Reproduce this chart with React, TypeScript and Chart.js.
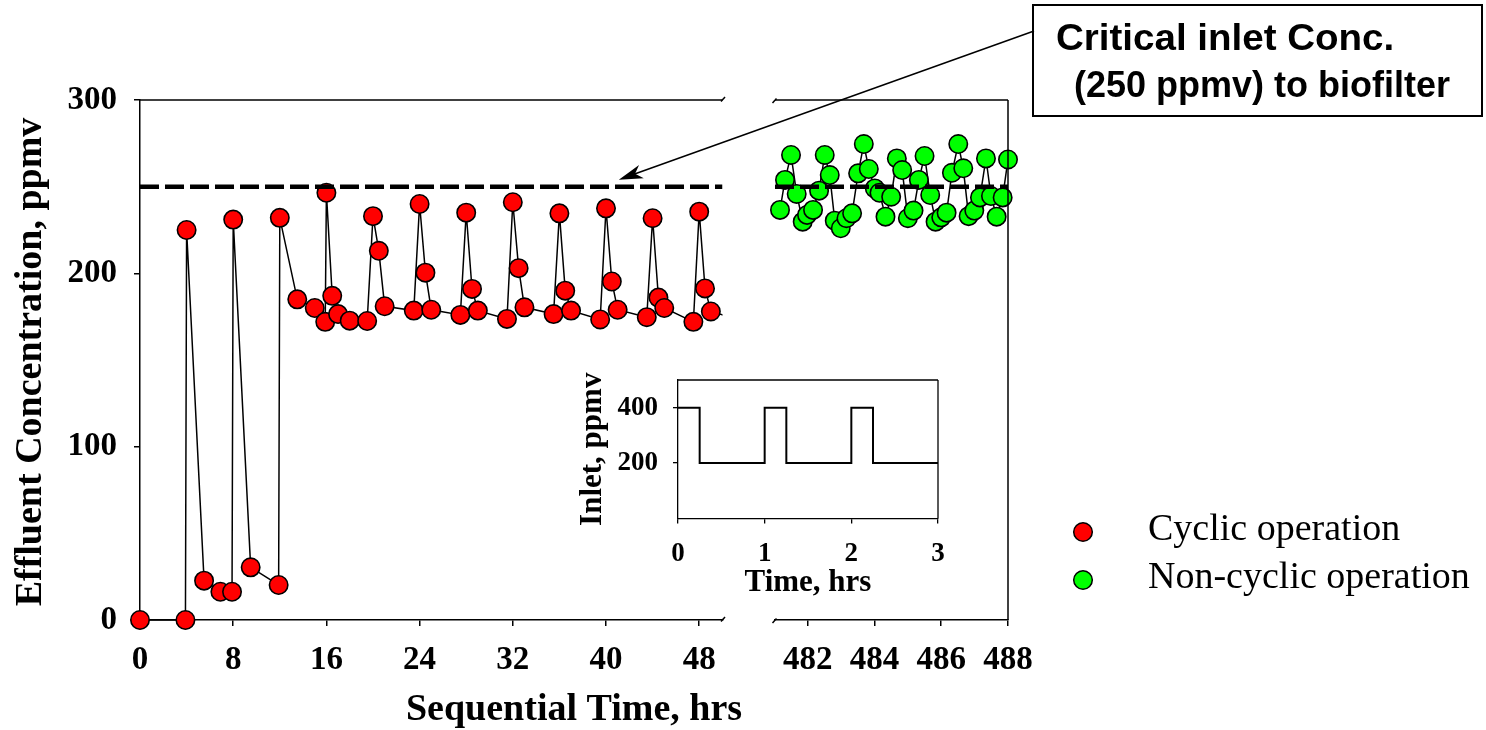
import React, { useEffect, useRef } from "react";
import { Chart, registerables } from "chart.js";

Chart.register(...registerables);

const W = 1486;
const H = 730;

// Cyclic operation: sequential time (h) and effluent concentration (ppmv)
const cyclicTime = [
  0, 3.9, 4, 5.5, 6.9, 7.9, 8, 9.5, 11.9, 12, 13.5, 15, 15.9, 16, 16.5, 17, 18, 19.5, 20,
  20.5, 21, 23.5, 24, 24.5, 25, 27.5, 28, 28.5, 29, 31.5, 32, 32.5, 33, 35.5, 36, 36.5, 37,
  39.5, 40, 40.5, 41, 43.5, 44, 44.5, 45, 47.5, 48, 48.5, 49, 51.5,
];
const cyclicConc = [
  0, 0, 225, 22.7, 16.3, 16.3, 231, 30.4, 20.2, 232, 185, 180, 172, 246.5, 187, 176.5, 172.7,
  172.5, 233, 213, 181, 178.5, 240, 200.4, 179, 176, 235, 191, 178.5, 173.7, 241, 203, 180.4,
  176.5, 234.6, 190, 178.5, 173.4, 237.5, 195.3, 179, 174.7, 231.8, 186, 180, 172, 235.6, 191.3,
  178, 173,
];

// Non-cyclic operation: sequential time (h) and effluent concentration (ppmv)
const steadyTime = [
  481.17, 481.32, 481.5, 481.67, 481.85, 481.98, 482.16, 482.34, 482.51, 482.66, 482.81, 482.99,
  483.16, 483.33, 483.51, 483.68, 483.83, 484.01, 484.15, 484.33, 484.5, 484.67, 484.83, 485.0,
  485.17, 485.33, 485.5, 485.67, 485.83, 486.0, 486.16, 486.32, 486.51, 486.66, 486.82, 486.99,
  487.16, 487.34, 487.49, 487.66, 487.84, 488.0,
];
const steadyConc = [
  236.6, 253.9, 268.3, 245.8, 229.8, 233.7, 236.6, 247.7, 268.3, 256.7, 230.4, 226, 231.8, 234.6,
  257.7, 274.6, 260.2, 249, 246.5, 232.7, 244.2, 266.3, 259.6, 231.8, 236.2, 253.9, 267.7, 245.2,
  229.8, 232.3, 235, 258, 274.6, 260.6, 233, 236.2, 243.8, 266.3, 244.6, 232.7, 243.8, 265.7,
];

const criticalConc = 250;

const leftRange = [0, 50];
const rightRange = [481.02, 488];
const concRange = [0, 300];
const leftTicksX = [0, 8, 16, 24, 32, 40, 48];
const rightTicksX = [482, 484, 486, 488];
const ticksY = [0, 100, 200, 300];

// Inlet feed profile over one 3-h window
const inletTime = [0, 0.25, 1, 1.25, 2, 2.25, 3];
const inletConc = [400, 200, 400, 200, 400, 200, 200];
const insetRangeX = [0, 3];
const insetRangeY = [0, 500];
const insetTicksX = [0, 1, 2, 3];
const insetTicksY = [200, 400];

const xTitle = "Sequential Time, hrs";
const yTitle = "Effluent Concentration, ppmv";
const insetXTitle = "Time, hrs";
const insetYTitle = "Inlet, ppmv";
const legendLabels = ["Cyclic operation", "Non-cyclic operation"];
const calloutLines = ["Critical inlet Conc.", "(250 ppmv) to biofilter"];

const RED = "#ff0000";
const GREEN = "#00ff00";
const SERIF = '"Liberation Serif", "Times New Roman", serif';
const SANS = '"Liberation Sans", Arial, sans-serif';

const pts = (xs: number[], ys: number[]) => xs.map((x, i) => ({ x, y: ys[i] }));
const setTicks = (vals: number[]) => (s: any) => {
  s.ticks = vals.map((v) => ({ value: v }));
};

function axisStyle(size: number, padding: number, tickLength: number, lw: number) {
  return {
    ticks: {
      font: { family: SERIF, size, weight: "bold" as const },
      color: "#000",
      padding,
      autoSkip: false,
      maxRotation: 0,
    },
    grid: {
      drawOnChartArea: false,
      drawTicks: true,
      tickLength,
      color: "#000",
      lineWidth: lw,
    },
    border: { display: true, color: "#000", width: lw },
  };
}

function line(ctx: CanvasRenderingContext2D, x1: number, y1: number, x2: number, y2: number) {
  ctx.beginPath();
  ctx.moveTo(x1, y1);
  ctx.lineTo(x2, y2);
  ctx.stroke();
}

function dot(ctx: CanvasRenderingContext2D, x: number, y: number, r: number, fill: string) {
  ctx.beginPath();
  ctx.arc(x, y, r, 0, Math.PI * 2);
  ctx.fillStyle = fill;
  ctx.fill();
  ctx.lineWidth = 1.5;
  ctx.strokeStyle = "#000";
  ctx.stroke();
}

const baseOptions = {
  responsive: false,
  animation: false as const,
  devicePixelRatio: 1,
  events: [] as any[],
  plugins: { legend: { display: false }, tooltip: { enabled: false } },
};

export default function App() {
  const mainRef = useRef<HTMLCanvasElement | null>(null);
  const rightRef = useRef<HTMLCanvasElement | null>(null);
  const insetRef = useRef<HTMLCanvasElement | null>(null);

  useEffect(() => {
    if (!mainRef.current || !rightRef.current || !insetRef.current) return;

    // Left panel (0-50 h) plus titles, legend and call-out
    const mainDecor = {
      id: "mainDecor",
      afterDraw(chart: any) {
        const { ctx, chartArea: a, scales } = chart;
        const xs = scales.x;
        const ys = scales.y;
        ctx.save();
        ctx.strokeStyle = "#000";
        ctx.lineWidth = 1.5;
        // top frame and axis break marks
        line(ctx, a.left, a.top, a.right, a.top);
        for (const yy of [a.top, a.bottom]) line(ctx, a.right - 1.5, yy + 1.5, a.right + 2.5, yy - 3);

        ctx.fillStyle = "#000";
        // y title
        ctx.save();
        ctx.translate(41, (a.top + a.bottom) / 2 + 2);
        ctx.rotate(-Math.PI / 2);
        ctx.font = `bold 38px ${SERIF}`;
        ctx.textAlign = "center";
        ctx.textBaseline = "alphabetic";
        ctx.fillText(yTitle, 0, 0);
        ctx.restore();

        // x title, centred under both panels
        ctx.font = `bold 38px ${SERIF}`;
        ctx.textAlign = "center";
        ctx.textBaseline = "alphabetic";
        ctx.fillText(xTitle, 574, 720);

        // legend
        const legendY = [532, 580];
        const legendFill = [RED, GREEN];
        legendLabels.forEach((lab, i) => {
          dot(ctx, 1083, legendY[i], 9.3, legendFill[i]);
          ctx.fillStyle = "#000";
          ctx.font = `38px ${SERIF}`;
          ctx.textAlign = "left";
          ctx.textBaseline = "alphabetic";
          ctx.fillText(lab, 1148, legendY[i] + 7.5);
        });

        // call-out box
        const bx = 1033, by = 5, bw = 449, bh = 111;
        ctx.fillStyle = "#fff";
        ctx.fillRect(bx, by, bw, bh);
        ctx.lineWidth = 2;
        ctx.strokeStyle = "#000";
        ctx.strokeRect(bx, by, bw, bh);
        ctx.fillStyle = "#000";
        ctx.font = `bold 36px ${SANS}`;
        ctx.textAlign = "left";
        const textPos = [
          [1056, 50, 1.07],
          [1074, 97, 1.0],
        ];
        calloutLines.forEach((t, i) => {
          ctx.save();
          ctx.translate(textPos[i][0], textPos[i][1]);
          ctx.scale(textPos[i][2], 1);
          ctx.fillText(t, 0, 0);
          ctx.restore();
        });

        // arrow from the call-out to the critical level line
        const tipX = xs.getPixelForValue(41.1);
        const tipY = ys.getPixelForValue(criticalConc) - 7;
        const tailX = bx + 1;
        const tailY = 31;
        const ang = Math.atan2(tailY - tipY, tailX - tipX);
        const ux = Math.cos(ang), uy = Math.sin(ang);
        const px = -uy, py = ux;
        const L = 24, Wd = 7;
        ctx.lineWidth = 1.5;
        line(ctx, tailX, tailY, tipX + ux * 16, tipY + uy * 16);
        ctx.beginPath();
        ctx.moveTo(tipX, tipY);
        ctx.lineTo(tipX + ux * L + px * Wd, tipY + uy * L + py * Wd);
        ctx.lineTo(tipX + ux * L * 0.72, tipY + uy * L * 0.72);
        ctx.lineTo(tipX + ux * L - px * Wd, tipY + uy * L - py * Wd);
        ctx.closePath();
        ctx.fill();
        ctx.restore();
      },
    };

    const main = new Chart(mainRef.current, {
      type: "scatter",
      data: {
        datasets: [
          {
            data: [
              { x: leftRange[0], y: criticalConc },
              { x: leftRange[1], y: criticalConc },
            ],
            showLine: true,
            borderColor: "#000",
            borderWidth: 4.5,
            borderDash: [19, 6],
            borderCapStyle: "butt",
            pointRadius: 0,
          },
          {
            label: legendLabels[0],
            data: pts(cyclicTime, cyclicConc),
            showLine: true,
            borderColor: "#000",
            borderWidth: 1.5,
            pointRadius: 9.2,
            pointBackgroundColor: RED,
            pointBorderColor: "#000",
            pointBorderWidth: 1.6,
            clip: { left: false, top: false, right: 0, bottom: false } as any,
          },
        ],
      },
      options: {
        ...baseOptions,
        layout: { padding: { left: 0, top: 100, right: W - 722.5, bottom: 0 } },
        scales: {
          x: {
            type: "linear",
            min: leftRange[0],
            max: leftRange[1],
            afterBuildTicks: setTicks(leftTicksX),
            afterFit: (s: any) => {
              s.height = H - 620;
            },
            ...axisStyle(33, 15, 6, 1.5),
          },
          y: {
            type: "linear",
            min: concRange[0],
            max: concRange[1],
            afterBuildTicks: setTicks(ticksY),
            afterFit: (s: any) => {
              s.width = 140;
            },
            ...axisStyle(33, 17, 6, 1.5),
          },
        },
      } as any,
      plugins: [mainDecor],
    });

    // Right panel (481-488 h)
    const rightDecor = {
      id: "rightDecor",
      afterDraw(chart: any) {
        const { ctx, chartArea: a } = chart;
        ctx.save();
        ctx.strokeStyle = "#000";
        ctx.lineWidth = 1.5;
        line(ctx, a.left, a.top, a.right, a.top);
        line(ctx, a.right, a.top, a.right, a.bottom);
        for (const yy of [a.top, a.bottom]) line(ctx, a.left - 2.5, yy + 3, a.left + 1.5, yy - 1.5);
        ctx.restore();
      },
    };

    const right = new Chart(rightRef.current, {
      type: "scatter",
      data: {
        datasets: [
          {
            data: [
              { x: rightRange[0], y: criticalConc },
              { x: rightRange[1], y: criticalConc },
            ],
            showLine: true,
            borderColor: "#000",
            borderWidth: 4.5,
            borderDash: [19, 6],
            borderCapStyle: "butt",
            pointRadius: 0,
          },
          {
            label: legendLabels[1],
            data: pts(steadyTime, steadyConc),
            showLine: true,
            borderColor: "#000",
            borderWidth: 1.5,
            pointRadius: 9.2,
            pointBackgroundColor: GREEN,
            pointBorderColor: "#000",
            pointBorderWidth: 1.6,
            clip: false as any,
          },
        ],
      },
      options: {
        ...baseOptions,
        layout: { padding: { left: 775, top: 100, right: W - 1008, bottom: 0 } },
        scales: {
          x: {
            type: "linear",
            min: rightRange[0],
            max: rightRange[1],
            afterBuildTicks: setTicks(rightTicksX),
            afterFit: (s: any) => {
              s.height = H - 620;
            },
            ...axisStyle(33, 15, 6, 1.5),
          },
          y: {
            type: "linear",
            display: false,
            min: concRange[0],
            max: concRange[1],
          },
        },
      } as any,
      plugins: [rightDecor],
    });

    // Inset: inlet concentration profile
    const insetDecor = {
      id: "insetDecor",
      afterDraw(chart: any) {
        const { ctx, chartArea: a } = chart;
        ctx.save();
        ctx.strokeStyle = "#000";
        ctx.lineWidth = 1.3;
        line(ctx, a.left, a.top, a.right, a.top);
        line(ctx, a.right, a.top, a.right, a.bottom);
        ctx.fillStyle = "#000";
        ctx.font = `bold 31px ${SERIF}`;
        ctx.textAlign = "center";
        ctx.textBaseline = "alphabetic";
        ctx.fillText(insetXTitle, (a.left + a.right) / 2, 591);
        ctx.save();
        ctx.translate(601, (a.top + a.bottom) / 2);
        ctx.rotate(-Math.PI / 2);
        ctx.fillText(insetYTitle, 0, 0);
        ctx.restore();
        ctx.restore();
      },
    };

    const inset = new Chart(insetRef.current, {
      type: "scatter",
      data: {
        datasets: [
          {
            data: pts(inletTime, inletConc),
            showLine: true,
            stepped: true,
            borderColor: "#000",
            borderWidth: 2,
            pointRadius: 0,
          },
        ],
      },
      options: {
        ...baseOptions,
        layout: { padding: { left: 0, top: 380, right: W - 938, bottom: 0 } },
        scales: {
          x: {
            type: "linear",
            min: insetRangeX[0],
            max: insetRangeX[1],
            afterBuildTicks: setTicks(insetTicksX),
            afterFit: (s: any) => {
              s.height = H - 518.5;
            },
            ...axisStyle(27, 14, 5, 1.3),
          },
          y: {
            type: "linear",
            min: insetRangeY[0],
            max: insetRangeY[1],
            afterBuildTicks: setTicks(insetTicksY),
            afterFit: (s: any) => {
              s.width = 678;
            },
            ...axisStyle(27, 15, 5, 1.3),
          },
        },
      } as any,
      plugins: [insetDecor],
    });

    return () => {
      main.destroy();
      right.destroy();
      inset.destroy();
    };
  }, []);

  const layer: React.CSSProperties = { position: "absolute", left: 0, top: 0 };
  return (
    <div style={{ position: "absolute", left: 0, top: 0, width: W, height: H, background: "#fff" }}>
      <canvas ref={mainRef} width={W} height={H} style={layer} />
      <canvas ref={rightRef} width={W} height={H} style={layer} />
      <canvas ref={insetRef} width={W} height={H} style={layer} />
    </div>
  );
}
